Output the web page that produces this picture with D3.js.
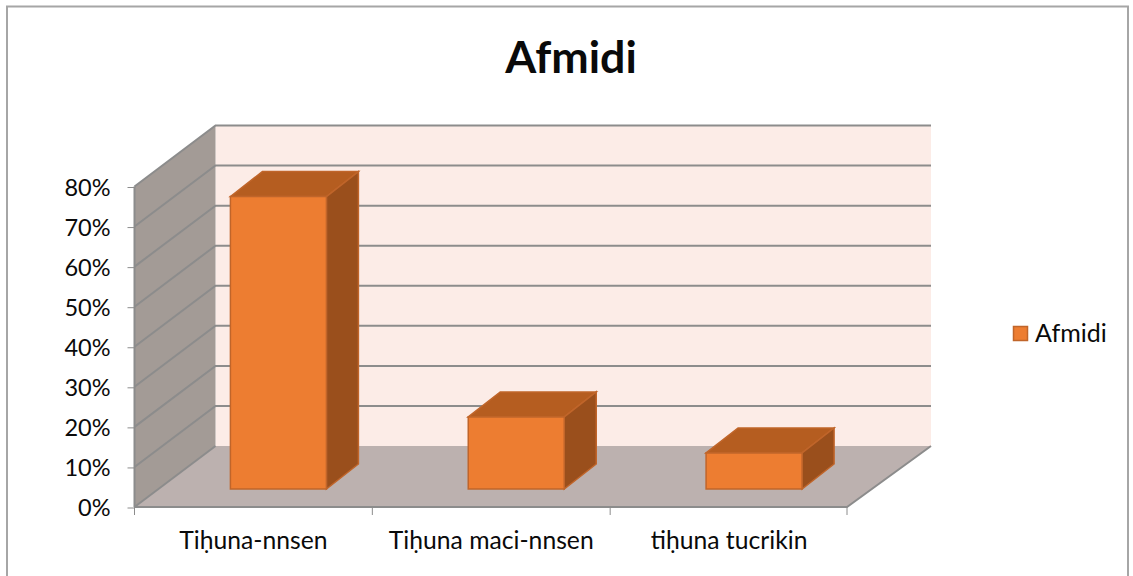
<!DOCTYPE html>
<html><head><meta charset="utf-8">
<script src="https://cdn.jsdelivr.net/npm/d3@7"></script>
<style>html,body{margin:0;padding:0;background:#fff}svg{display:block}text{font-family:Lato,"Noto Sans",sans-serif;fill:#0a0a0a}</style>
</head><body><svg id="c" width="1133" height="576"></svg>
<script>
const categories = ["Tiḥuna-nnsen","Tiḥuna maci-nnsen","tiḥuna tucrikin"];
const values = [0.73,0.18,0.09];
const yTicks = [0,0.1,0.2,0.3,0.4,0.5,0.6,0.7,0.8];
const seriesName = "Afmidi";

const svg = d3.select("#c");
const x = d3.scaleBand().domain(categories).range([134.5,848]).paddingInner(0).paddingOuter(0);
const y = d3.scaleLinear().domain([0,0.8]).range([507,186.5]);
const depth = {dx:81, dy:-61};
const barOff = {dx:25, dy:-18};
const barDepth = {dx:32, dy:-25};
const barW = 96;
const line = d3.line();
const grid = "#8c8c8c";

svg.append("rect").attr("x",7).attr("y",6.5).attr("width",1121).attr("height",580)
  .attr("fill","#fff").attr("stroke","#a6a6a6").attr("stroke-width",2);

const x0=x.range()[0], x1=x.range()[1]-1, y0=y(0), yT=y(0.8), xB=x1+84;
// back wall
svg.append("path").attr("fill","#fcece7").attr("d",line([[x0+depth.dx,y0+depth.dy],[x0+depth.dx,yT+depth.dy],[xB,yT+depth.dy],[xB,y0+depth.dy]])+"Z");
// side wall
svg.append("path").attr("fill","#a39b96").attr("d",line([[x0,y0],[x0,yT],[x0+depth.dx,yT+depth.dy],[x0+depth.dx,y0+depth.dy]])+"Z");
// floor
svg.append("path").attr("fill","#bcb1af").attr("d",line([[x0,y0],[x0+depth.dx,y0+depth.dy],[xB,y0+depth.dy],[x1,y0]])+"Z");

// grid lines
yTicks.forEach(t=>{
  svg.append("path").attr("fill","none").attr("stroke",grid).attr("stroke-width",2)
    .attr("d",line(t===0?[[x0,y(t)],[x0+depth.dx,y(t)+depth.dy]]:[[x0,y(t)],[x0+depth.dx,y(t)+depth.dy],[xB,y(t)+depth.dy]]));
});
// floor edges
svg.append("path").attr("fill","none").attr("stroke",grid).attr("stroke-width",2).attr("d",line([[x0,y0],[x1,y0],[xB,y0+depth.dy]]));
svg.append("path").attr("fill","none").attr("stroke",grid).attr("stroke-width",2).attr("d",line([[x0,y0],[x0,yT]]));

// y axis
const gy = svg.append("g").attr("transform",`translate(${x0},0.5)`).call(d3.axisLeft(y).tickValues(yTicks).tickFormat(d3.format(".0%")).tickSize(7).tickPadding(17));
gy.select(".domain").remove();
gy.selectAll("line").attr("stroke",grid).attr("stroke-width",1);
gy.selectAll("text").attr("font-size",23.5).attr("dy","0.36em");

// x axis
const gx = svg.append("g").attr("transform",`translate(0,${y0})`).call(d3.axisBottom(x).tickSize(0).tickPadding(24));
gx.select(".domain").remove();
gx.selectAll("text").attr("font-size",24.7).attr("dy","0.71em");
const edges = categories.map(c=>x(c)).concat([x1]);
svg.selectAll("line.xt").data(edges).join("line").attr("class","xt")
  .attr("x1",d=>d).attr("x2",d=>d).attr("y1",y0).attr("y2",y0+8).attr("stroke",grid);

// bars
const edge="#c0652a";
categories.forEach((c,i)=>{
  const cx=x(c)+x.bandwidth()/2+barOff.dx, l=cx-barW/2, r=cx+barW/2;
  const b=y(0)+barOff.dy, t=y(values[i])+barOff.dy;
  const dx=barDepth.dx, dy=barDepth.dy;
  svg.append("path").attr("fill","#b55d20").attr("stroke",edge).attr("stroke-width",1.5).attr("d",line([[l,t],[l+dx,t+dy],[r+dx,t+dy],[r,t]])+"Z");
  svg.append("path").attr("fill","#9a4f1c").attr("stroke",edge).attr("stroke-width",1.5).attr("d",line([[r,t],[r+dx,t+dy],[r+dx,b+dy],[r,b]])+"Z");
  svg.append("path").attr("fill","#ed7d31").attr("stroke",edge).attr("stroke-width",1.5).attr("d",line([[l,t],[r,t],[r,b],[l,b]])+"Z");
});

// title
svg.append("text").attr("x",571).attr("y",73).attr("text-anchor","middle").attr("font-size",44.7).attr("font-weight",700).text(seriesName);

// legend
svg.append("rect").attr("x",1013.5).attr("y",326.5).attr("width",14).attr("height",14).attr("fill","#ed7d31").attr("stroke",edge).attr("stroke-width",1.5);
svg.append("text").attr("x",1035).attr("y",342).attr("font-size",25).text(seriesName);
</script></body></html>
